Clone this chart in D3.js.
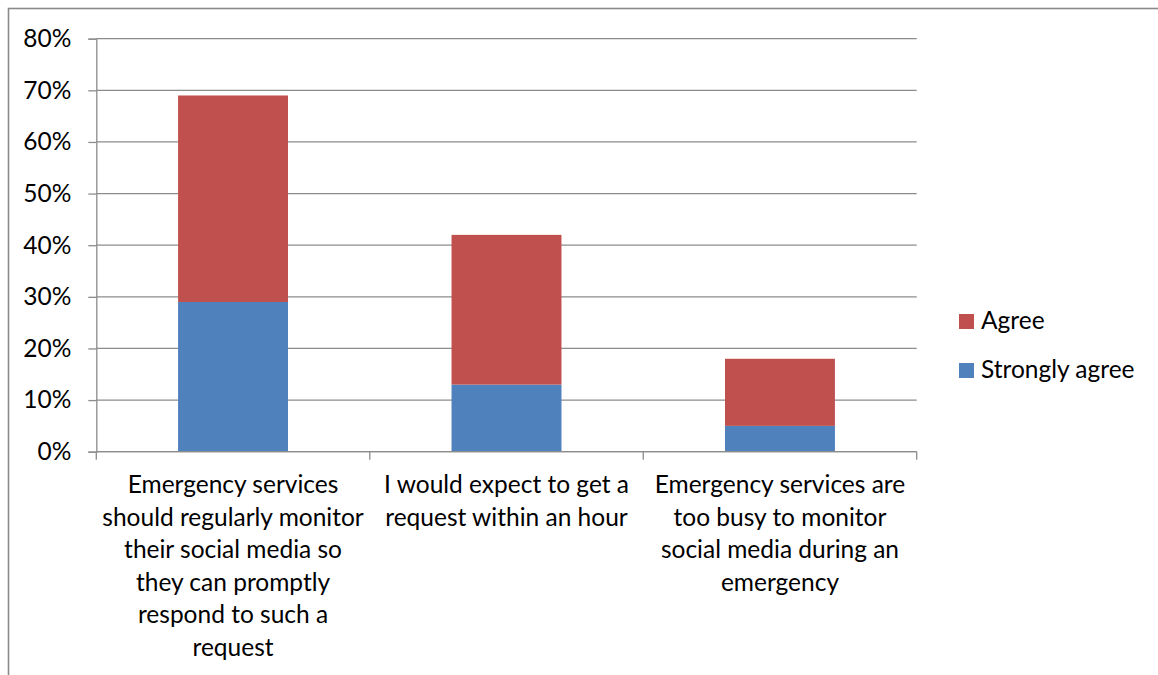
<!DOCTYPE html>
<html>
<head>
<meta charset="utf-8">
<script src="https://cdn.jsdelivr.net/npm/d3@7"></script>
<style>
  html, body { margin: 0; padding: 0; background: #fff; }
  svg { display: block; }
  text { font-family: Lato, "Open Sans", sans-serif; fill: #000; }
</style>
</head>
<body>
<svg id="chart" width="1158" height="675"></svg>
<script>
// Survey statements (wrapped as displayed under the axis)
const categories = [
  ["Emergency services", "should regularly monitor", "their social media so", "they can promptly", "respond to such a", "request"],
  ["I would expect to get a", "request within an hour"],
  ["Emergency services are", "too busy to monitor", "social media during an", "emergency"]
];
const seriesNames = ["Strongly agree", "Agree"];
const stronglyAgree = [29, 13, 5];
const agree = [40, 29, 13];
const yTicks = [0, 10, 20, 30, 40, 50, 60, 70, 80];
const colors = { "Strongly agree": "#4F81BD", "Agree": "#C0504D" };

const svg = d3.select("#chart");
const fontSize = 24.5;

const plot = { left: 96.3, right: 916.7, top: 38.7, bottom: 451.7 };

const x = d3.scaleBand()
  .domain(d3.range(categories.length))
  .range([plot.left, plot.right])
  .paddingInner(0.598)
  .paddingOuter(0.299);

const y = d3.scaleLinear().domain([0, 80]).range([plot.bottom, plot.top]);

// Outer chart frame
svg.append("rect")
  .attr("x", 8.5).attr("y", 8.5)
  .attr("width", 1158).attr("height", 675)
  .attr("fill", "none").attr("stroke", "#8a8a8a").attr("stroke-width", 1.6);

// Horizontal gridlines
svg.append("g")
  .selectAll("line")
  .data(yTicks)
  .join("line")
  .attr("x1", plot.left).attr("x2", plot.right)
  .attr("y1", d => y(d)).attr("y2", d => y(d))
  .attr("stroke", "#8c8c8c").attr("stroke-width", 1.3);

// Stacked bars
const stackData = categories.map((c, i) => ({
  i, "Strongly agree": stronglyAgree[i], "Agree": agree[i]
}));
const stacked = d3.stack().keys(seriesNames)(stackData);

svg.append("g")
  .selectAll("g")
  .data(stacked)
  .join("g")
  .attr("fill", s => colors[s.key])
  .selectAll("rect")
  .data(s => s)
  .join("rect")
  .attr("x", d => x(d.data.i))
  .attr("width", x.bandwidth())
  .attr("y", d => y(d[1]))
  .attr("height", d => y(d[0]) - y(d[1]));

// Y axis
const yAxis = d3.axisLeft(y)
  .tickValues(yTicks)
  .tickFormat(d => d + "%")
  .tickSize(8)
  .tickPadding(17);
const gy = svg.append("g")
  .attr("transform", `translate(${plot.left},0)`)
  .call(yAxis);
gy.select(".domain").attr("stroke", "#8c8c8c").attr("stroke-width", 1.3);
gy.selectAll(".tick line").attr("stroke", "#8c8c8c").attr("stroke-width", 1.3);
gy.selectAll(".tick text")
  .attr("font-size", fontSize)
  .attr("font-family", "Lato, 'Open Sans', sans-serif")
  .attr("fill", "#000");

// X axis baseline and category separators
const xEdges = d3.range(categories.length + 1).map(i => plot.left + i * x.step());
svg.append("line")
  .attr("x1", plot.left).attr("x2", plot.right)
  .attr("y1", plot.bottom).attr("y2", plot.bottom)
  .attr("stroke", "#8c8c8c").attr("stroke-width", 1.3);
svg.append("g")
  .selectAll("line")
  .data(xEdges)
  .join("line")
  .attr("x1", d => d).attr("x2", d => d)
  .attr("y1", plot.bottom).attr("y2", plot.bottom + 8)
  .attr("stroke", "#8c8c8c").attr("stroke-width", 1.3);

// Category labels
const lineH = 32.5;
svg.append("g")
  .selectAll("text")
  .data(categories)
  .join("text")
  .attr("text-anchor", "middle")
  .attr("font-size", fontSize)
  .attr("transform", (d, i) => `translate(${x(i) + x.bandwidth() / 2},493)`)
  .selectAll("tspan")
  .data(d => d)
  .join("tspan")
  .attr("x", 0)
  .attr("y", (d, j) => j * lineH)
  .text(d => d);

// Legend (Agree listed first, matching stack order top-down)
const legendItems = ["Agree", "Strongly agree"];
const legend = svg.append("g")
  .selectAll("g")
  .data(legendItems)
  .join("g")
  .attr("transform", (d, i) => `translate(959,${314 + i * 49})`);
legend.append("rect")
  .attr("width", 15).attr("height", 15)
  .attr("fill", d => colors[d]);
legend.append("text")
  .attr("x", 22).attr("y", 14.5)
  .attr("font-size", fontSize)
  .text(d => d);
</script>
</body>
</html>
